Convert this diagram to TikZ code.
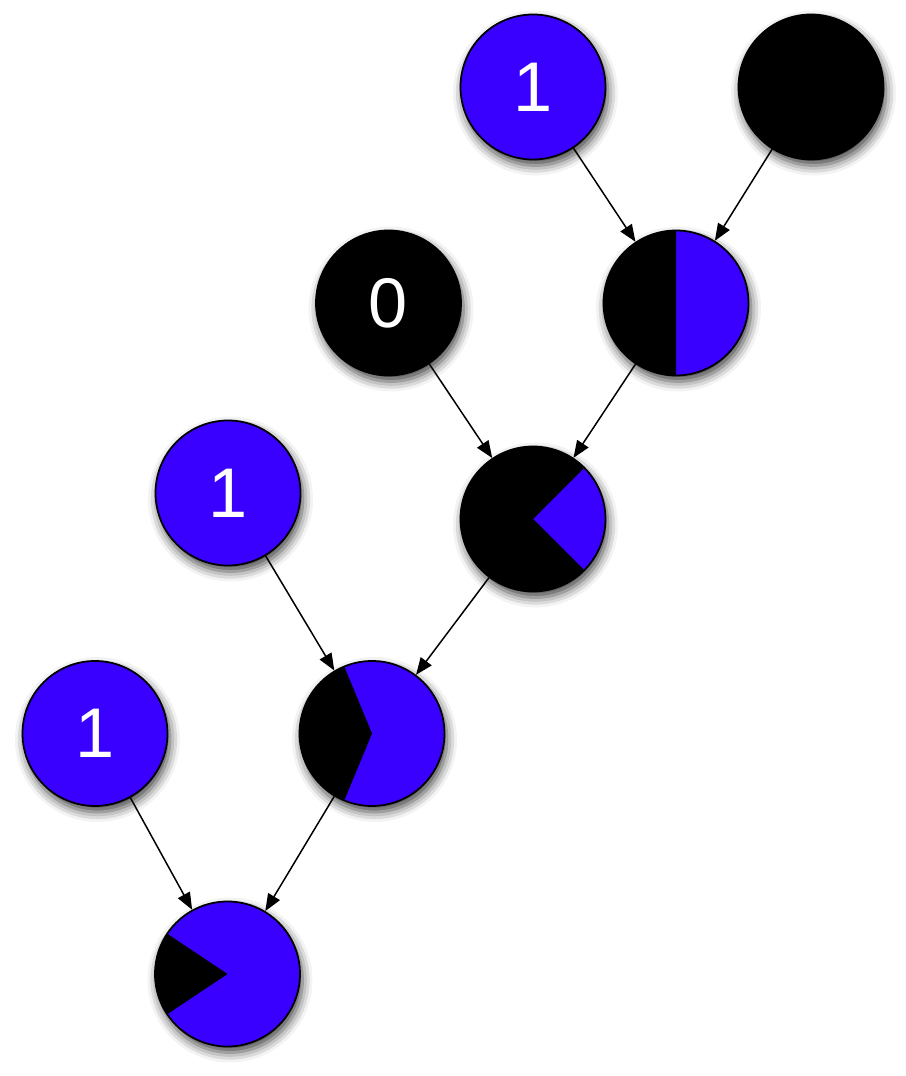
\documentclass[tikz,border=0pt]{standalone}
\usepackage{fontspec}
\usepackage{xcolor}
\usepackage{tikz}
\usetikzlibrary{arrows.meta,shadows.blur}
\newfontfamily\numfont{Liberation Sans}
\definecolor{vblue}{HTML}{3A00FF}
\definecolor{vblack}{HTML}{000000}
\tikzset{
  vnode/.style={circle, draw=black, line width=1pt, minimum size=2.9cm, inner sep=0pt,
    blur shadow={shadow xshift=0.05cm, shadow yshift=-0.12cm, shadow blur radius=0.2cm, shadow opacity=75},
    text=white, font=\numfont\fontsize{40}{48}\selectfont},
  bluenode/.style={vnode, fill=vblue},
  blacknode/.style={vnode, fill=vblack},
  mixnode/.style 2 args={vnode, fill=vblue,
    path picture={\fill[vblack] (path picture bounding box.center) -- ++(#1:1.6cm)
      arc[start angle=#1, end angle=#2, radius=1.6cm] -- cycle;}},
  feed/.style={-{Triangle[length=0.34cm, width=0.27cm]}, line width=0.85pt}
}

\begin{document}
\begin{tikzpicture}
  \useasboundingbox (0,0) rectangle (18.12,21.52);

  % top row
  \node[bluenode]  (one1) at (10.66,19.78) {1};
  \node[blacknode] (blk)  at (16.22,19.78) {};

  % second row
  \node[blacknode] (zero) at (7.77,15.46) {0};
  \node[mixnode={90}{270}] (half) at (13.52,15.46) {};

  % third row
  \node[bluenode] (one2) at (4.56,11.66) {1};
  \node[mixnode={45}{315}] (quart) at (10.66,11.14) {};

  % fourth row
  \node[bluenode] (one3) at (1.90,6.85) {1};
  \node[mixnode={112.5}{247.5}] (fiveeig) at (7.44,6.85) {};

  % bottom
  \node[mixnode={146.25}{213.75}] (last) at (4.55,2.04) {};

  \draw[feed] (one1) -- (half);
  \draw[feed] (blk) -- (half);
  \draw[feed] (zero) -- (quart);
  \draw[feed] (half) -- (quart);
  \draw[feed] (one2) -- (fiveeig);
  \draw[feed] (quart) -- (fiveeig);
  \draw[feed] (one3) -- (last);
  \draw[feed] (fiveeig) -- (last);
\end{tikzpicture}
\end{document}
